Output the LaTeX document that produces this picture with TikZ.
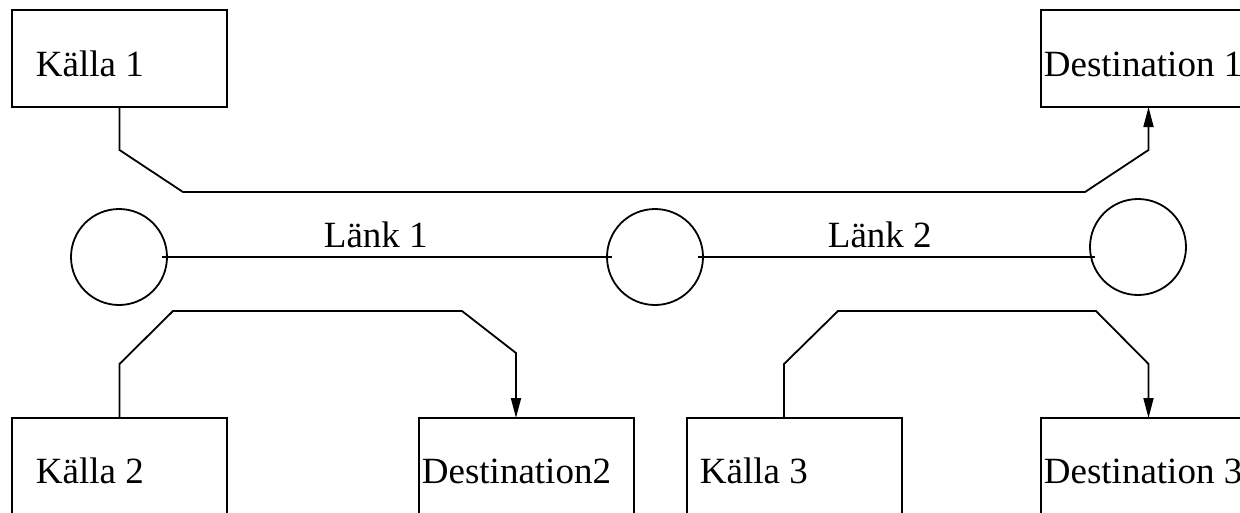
\documentclass[tikz,border=0pt]{standalone}
\usepackage{fontspec}
\setmainfont{Liberation Serif}
\usetikzlibrary{arrows.meta}
\begin{document}
\begin{tikzpicture}[x=1pt,y=-1pt,
  line width=1.8pt,
  box/.style={draw,rectangle,minimum width=215pt,minimum height=97pt,inner sep=0pt,outer sep=0pt,anchor=north west},
  hub/.style={draw,circle,minimum size=96pt,inner sep=0pt,outer sep=0pt},
  lbl/.style={anchor=base west,inner sep=0pt,font=\fontsize{37}{40}\selectfont},
  conn/.style={line join=miter},
  arr/.style={conn,-{Triangle[length=20pt,width=10pt]}}]
\useasboundingbox (0,0) rectangle (1240,512);
\clip (0,0) rectangle (1240,512);
% boxes
\node[box] (k1) at (12,10) {};
\node[box] (d1) at (1041,10) {};
\node[box] (k2) at (12,418) {};
\node[box] (d2) at (419,418) {};
\node[box] (k3) at (687,418) {};
\node[box] (d3) at (1041,418) {};
% texts
\node[lbl] (tk1) at (35,76) {Källa 1};
\node[lbl] (td1) at (1043,76) {Destination 1};
\node[lbl] (tk2) at (35,483) {Källa 2};
\node[lbl] (td2) at (421,483) {Destination2};
\node[lbl] (tk3) at (699,483) {Källa 3};
\node[lbl] (td3) at (1043,483) {Destination 3};
% circles
\node[hub] (c1) at (119,257) {};
\node[hub] (c2) at (655,257) {};
\node[hub] (c3) at (1138,247) {};
% links
\draw ([xshift=-5pt]c1.east) -- ([xshift=5pt]c2.west);
\draw ([xshift=-5pt]c2.east) -- ([xshift=5pt]c3.west |- c2.east);
\node[lbl] (l1) at (323,247) {Länk 1};
\node[lbl] (l2) at (827,247) {Länk 2};
% bend points
\coordinate (b2) at (516,353);
\coordinate (s3) at (784,364);
% connectors
\draw[arr] (k1.south) -- (119.5,150) -- (183,192) -- (1085,192) -- (1148.5,150) -- (d1.south);
\draw[arr] (k2.north) -- (119.5,364) -- (173,311) -- (462,311) -- (b2) -- (b2 |- d2.north);
\draw[arr] (s3 |- k3.north) -- (s3) -- (838,311) -- (1096,311) -- (1148.5,364) -- (d3.north);
\end{tikzpicture}
\end{document}
